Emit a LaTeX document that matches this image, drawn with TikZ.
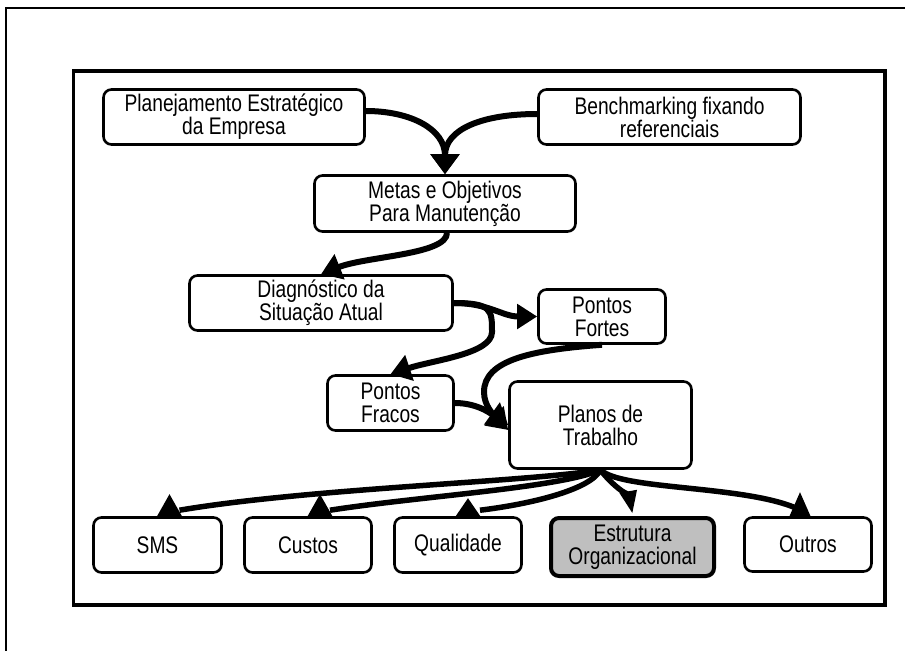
\documentclass[tikz,border=0pt]{standalone}
\usepackage{fontspec}
\setmainfont{Liberation Sans}[FakeStretch=0.8]
\usetikzlibrary{arrows.meta,calc}

\begin{document}
\begin{tikzpicture}[x=1pt,y=-1pt,
  box/.style={draw, line width=2.6pt, rounded corners=8pt, fill=white,
    align=center, inner sep=0pt, font=\fontsize{24}{23}\selectfont},
  conn/.style={line width=6pt, -{Triangle[length=20pt,width=26pt]}},
  fan/.style={line width=5.5pt},
  uphead/.style={fill=black}]
\useasboundingbox (0,0) rectangle (905,651);
\fill[white] (0,0) rectangle (905,651);

% page frame and inner frame
\draw[line width=1.6pt] (905,8) -- (6,8) -- (6,651);
\draw[line width=3.5pt] (73.5,71) rectangle (885,605);

% boxes
\node[box, minimum width=261pt, minimum height=55pt] (plan)  at (234,117)   {Planejamento Estratégico\\da Empresa};
\node[box, minimum width=262pt, minimum height=55pt] (bench) at (669.5,117) {Benchmarking fixando\\referenciais};
\node[box, minimum width=261pt, minimum height=56pt] (metas) at (445,203.5) {Metas e Objetivos\\Para Manutenção};
\node[box, minimum width=263pt, minimum height=55pt] (diag)  at (321,303)   {Diagnóstico da\\Situação Atual};
\node[box, minimum width=127pt, minimum height=54pt] (fortes) at (602,316.5) {Pontos\\Fortes};
\node[box, minimum width=126pt, minimum height=55pt] (fracos) at (390.5,403) {Pontos\\Fracos};
\node[box, minimum width=182pt, minimum height=87pt] (planos) at (600.5,425) {Planos de\\Trabalho};
\node[box, minimum width=128pt, minimum height=55pt] (sms)    at (157.5,545) {SMS};
\node[box, minimum width=127pt, minimum height=55pt] (custos) at (308,545)   {Custos};
\node[box, minimum width=127pt, minimum height=55pt] (qual)   at (458,545)   {Qualidade};
\node[box, line width=4pt, fill=gray!50, minimum width=163pt, minimum height=58pt] (estr) at (632.5,547) {Estrutura\\Organizacional};
\node[box, minimum width=127pt, minimum height=54pt] (outros) at (808,544.5) {Outros};

% upper connectors
\draw[conn, -{Triangle[length=20pt,width=28pt]}] ([yshift=6pt]plan.east) .. controls +(45,0) and +(0,-45) .. (metas.north);
\draw[conn, -{Triangle[length=20pt,width=28pt]}] ([yshift=3pt]bench.west) .. controls +(-55,0) and +(0,-45) .. (metas.north);
\draw[conn] ([xshift=2pt]metas.south) .. controls +(0,22) and +(45,-18) .. (diag.north);
\draw[conn, -{Triangle[length=20pt,width=24pt]}] (diag.east) .. controls +(35,0) and +(-35,0) .. (fortes.west);
\coordinate (split) at (492,332);
\draw[conn] (diag.east) .. controls +(38,0) and +(0,-22) .. (split) .. controls +(0,22) and +(42,-14) .. (fracos.north);
\coordinate (bend) at (484,392);
\draw[conn] (fortes.south) .. controls +(-70,5) and +(0,-32) .. (bend) .. controls +(0,14) and +(-14,-10) .. (planos.west);
\draw[conn] (fracos.east) .. controls +(25,0) and +(-14,-14) .. ([yshift=-5pt]planos.west);

% fan of connectors below the work plans
\draw[fan] (planos.south) .. controls +(-70,12) and +(130,-22) .. ($(sms.north)+(22,-6)$);
\draw[fan] (planos.south) .. controls +(-40,18) and +(90,-14) .. ($(custos.north)+(22,-6)$);
\draw[fan] (planos.south) .. controls +(-10,20) and +(50,-6) .. ($(qual.north)+(22,-6)$);
\draw[fan, -{Triangle[length=23pt,width=16pt]}] (planos.south) .. controls +(10,14) and +(-3,-16) .. ($(estr.north)+(0,-2)$);
\draw[fan] (planos.south) .. controls +(20,20) and +(-55,-22) .. ($(outros.north)+(-14,-9)$);

% heads sitting on the box tops
\fill[uphead] ($(sms.north)+(12,-22)$) -- ($(sms.north)+(-1,1)$) -- ($(sms.north)+(25,1)$) -- cycle;
\fill[uphead] ($(custos.north)+(12,-22)$) -- ($(custos.north)+(-1,1)$) -- ($(custos.north)+(25,1)$) -- cycle;
\fill[uphead] ($(qual.north)+(10,-18)$) -- ($(qual.north)+(-3,1)$) -- ($(qual.north)+(23,1)$) -- cycle;
\fill[uphead] ($(outros.north)+(-8,-24)$) -- ($(outros.north)+(-19,1)$) -- ($(outros.north)+(3,1)$) -- cycle;
\end{tikzpicture}
\end{document}
